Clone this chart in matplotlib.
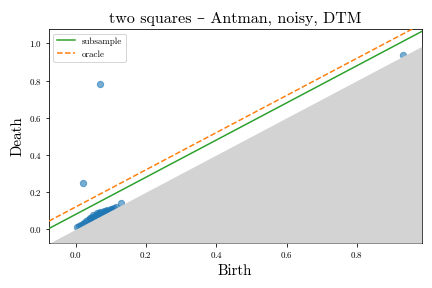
import numpy as np
import matplotlib
matplotlib.use("Agg")
import matplotlib.pyplot as plt

plt.rcParams['font.family'] = ['cmr10', 'DejaVu Serif']
plt.rcParams['mathtext.fontset'] = 'cm'
plt.rcParams['axes.formatter.use_mathtext'] = True

# persistence diagram points (birth, death)
births = [0.022, 0.069, 0.931,
          0.005, 0.010, 0.015, 0.020, 0.025, 0.030, 0.035, 0.040, 0.045,
          0.050, 0.055, 0.060, 0.065, 0.070, 0.075, 0.080, 0.085, 0.090,
          0.095, 0.100, 0.105, 0.110, 0.115, 0.130,
          0.040, 0.050, 0.060, 0.070, 0.080, 0.090, 0.100]
deaths = [0.247, 0.780, 0.936,
          0.010, 0.017, 0.023, 0.029, 0.036, 0.043, 0.050, 0.057, 0.063,
          0.068, 0.073, 0.077, 0.082, 0.086, 0.089, 0.092, 0.094, 0.096,
          0.099, 0.103, 0.108, 0.113, 0.118, 0.139,
          0.062, 0.077, 0.088, 0.094, 0.098, 0.102, 0.108]

# confidence band offsets
subsample_c = 0.080
oracle_c = 0.120

xlim = (-0.076, 0.984)
ylim = (-0.074, 1.077)

fig, ax = plt.subplots(figsize=(6, 4), dpi=72)
ax.scatter(births, deaths, s=40, color='C0', alpha=0.6, zorder=2)

xx = np.array(xlim)
ax.fill_between(xx, ylim[0], xx, color='lightgray', zorder=3, linewidth=0)
ax.plot(xx, xx + subsample_c, color='C2', label='subsample', zorder=4)
ax.plot(xx, xx + oracle_c, color='C1', linestyle='--', label='oracle', zorder=4)

ax.set_xlim(xlim)
ax.set_ylim(ylim)
ax.set_xticks([0.0, 0.2, 0.4, 0.6, 0.8])
ax.set_yticks([0.0, 0.2, 0.4, 0.6, 0.8, 1.0])
ax.tick_params(labelsize=9)
ax.set_xlabel('Birth', fontsize=15)
ax.set_ylabel('Death', fontsize=15)
ax.set_title('two squares – Antman, noisy, DTM', fontsize=16)
ax.legend(loc='upper left', fontsize=9)

fig.subplots_adjust(left=0.113, right=0.976, top=0.899, bottom=0.156)
fig.savefig('out.png', dpi=72)
